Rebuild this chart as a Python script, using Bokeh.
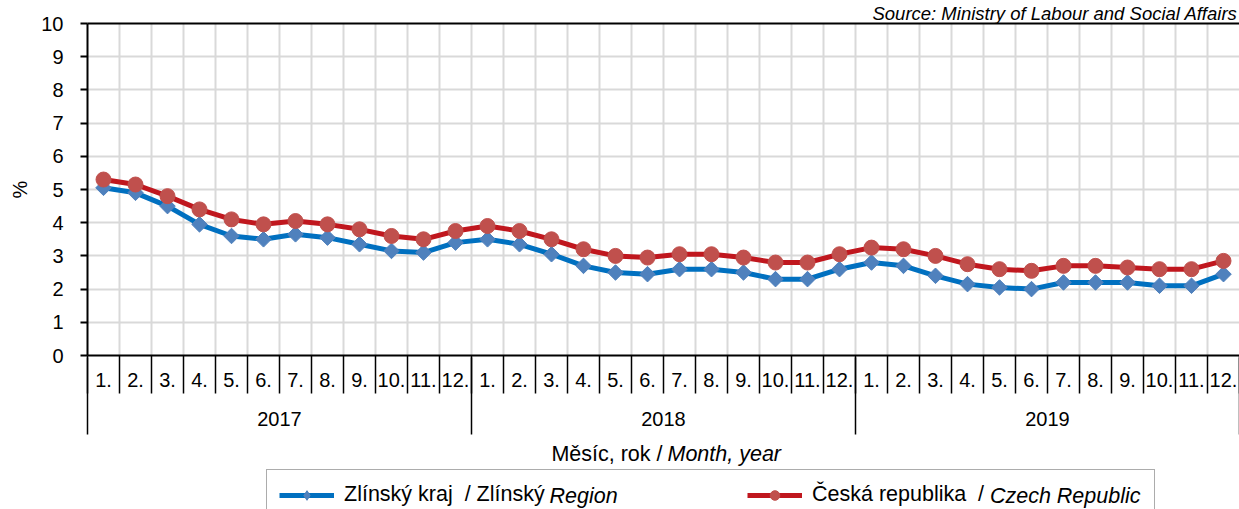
import numpy as np
from bokeh.plotting import figure
from bokeh.layouts import column
from bokeh.models import (Range1d, LinearAxis, FixedTicker, Grid, Legend,
                          LegendItem, Label)
from bokeh.embed import file_html
from bokeh.resources import INLINE

# ---------------- data ----------------
years = ["2017", "2018", "2019"]
months = ["1.", "2.", "3.", "4.", "5.", "6.", "7.", "8.", "9.", "10.", "11.", "12."]

zlin = [5.05, 4.9, 4.5, 3.95, 3.6, 3.5, 3.65, 3.55, 3.35, 3.15, 3.1, 3.4,
        3.5, 3.35, 3.05, 2.7, 2.5, 2.45, 2.6, 2.6, 2.5, 2.3, 2.3, 2.6,
        2.8, 2.7, 2.4, 2.15, 2.05, 2.0, 2.2, 2.2, 2.2, 2.1, 2.1, 2.45]
cz = [5.3, 5.15, 4.8, 4.4, 4.1, 3.95, 4.05, 3.95, 3.8, 3.6, 3.5, 3.75,
      3.9, 3.75, 3.5, 3.2, 3.0, 2.95, 3.05, 3.05, 2.95, 2.8, 2.8, 3.05,
      3.25, 3.2, 3.0, 2.75, 2.6, 2.55, 2.7, 2.7, 2.65, 2.6, 2.6, 2.85]

y_ticks = list(range(0, 11))
name_zlin = ("Zlínský kraj\u00a0 / Zlínský", "Region")
name_cz = ("Česká republika\u00a0 /", "Czech Republic")
axis_title = ("Měsíc, rok /", "Month, year")
source_text = "Source: Ministry of Labour and Social Affairs"

FONT = "Liberation Sans"
FS = "20px"
FS_BIG = "21.5px"
W = 1239
H_MAIN = 440
H_BOT = 69

BLUE_LINE, BLUE_MARK = "#0070C0", "#4F81BD"
RED_LINE, RED_MARK = "#C0171E", "#C0504D"

n = len(years) * len(months)
xc = [i + 0.5 for i in range(n)]

# ---------------- main chart ----------------
p = figure(width=W, height=H_MAIN, x_range=Range1d(0, n), y_range=Range1d(0, 10),
           output_backend="svg", toolbar_location=None, x_axis_type=None,
           min_border_left=87, min_border_right=0, min_border_top=23,
           min_border_bottom=H_MAIN - 355)
p.outline_line_color = None
p.background_fill_color = "white"
p.border_fill_color = "white"

p.title.text = source_text
p.title.align = "right"
p.title.text_font = FONT
p.title.text_font_style = "italic"
p.title.text_font_size = "18.5px"
p.title.text_color = "black"
p.title.standoff = 0
p.title.offset = 2

yax = p.yaxis[0]
yax.ticker = FixedTicker(ticks=y_ticks)
yax.major_tick_out = 7
yax.major_tick_in = 0
yax.minor_tick_out = 0
yax.minor_tick_in = 0
yax.axis_line_color = "black"
yax.axis_line_width = 2
yax.major_tick_line_color = "black"
yax.major_tick_line_width = 2
yax.major_label_text_font = FONT
yax.major_label_text_font_size = FS
yax.major_label_text_color = "black"
yax.major_label_standoff = 17
yax.axis_label = "%"
yax.axis_label_text_font = FONT
yax.axis_label_text_font_style = "normal"
yax.axis_label_text_font_size = FS
yax.axis_label_text_color = "black"
yax.axis_label_standoff = 7

# plain black line along the top edge of the plot area
top_axis = LinearAxis(ticker=FixedTicker(ticks=[]), major_tick_out=0, major_tick_in=0,
                      minor_tick_out=0, minor_tick_in=0, axis_line_color="black",
                      axis_line_width=2, major_label_standoff=0,
                      major_label_text_font_size="0px")
p.add_layout(top_axis, "above")

p.ygrid.grid_line_color = "#D9D9D9"
p.ygrid.grid_line_width = 2
p.add_layout(Grid(dimension=0, ticker=FixedTicker(ticks=list(range(n + 1))),
                  grid_line_color="#D9D9D9", grid_line_width=2))

# month axis (labels at centres, separators as minor ticks)
month_axis = LinearAxis(
    ticker=FixedTicker(ticks=xc, minor_ticks=list(range(n + 1))),
    major_label_overrides={xc[i]: months[i % 12] for i in range(n)},
    major_tick_out=0, major_tick_in=0, minor_tick_out=38, minor_tick_in=0,
    minor_tick_line_color="black", minor_tick_line_width=1.5,
    axis_line_color="black", axis_line_width=2,
    major_label_text_font=FONT, major_label_text_font_size=FS,
    major_label_text_color="black", major_label_standoff=-21)
p.add_layout(month_axis, "below")

# year axis
ymid = [12 * k + 6 for k in range(len(years))]
year_axis = LinearAxis(
    ticker=FixedTicker(ticks=ymid, minor_ticks=[12 * k for k in range(len(years) + 1)]),
    major_label_overrides={ymid[k]: years[k] for k in range(len(years))},
    major_tick_out=0, major_tick_in=0, minor_tick_out=45, minor_tick_in=32,
    minor_tick_line_color="black", minor_tick_line_width=1.5,
    axis_line_color=None,
    major_label_text_font=FONT, major_label_text_font_size=FS,
    major_label_text_color="black", major_label_standoff=-23)
p.add_layout(year_axis, "below")

p.line(xc, zlin, line_color=BLUE_LINE, line_width=5)
p.scatter(xc, zlin, marker="square", angle=np.pi / 4, size=11,
          fill_color=BLUE_MARK, line_color=BLUE_MARK)
p.line(xc, cz, line_color=RED_LINE, line_width=5)
p.scatter(xc, cz, marker="circle", size=15,
          fill_color=RED_MARK, line_color=RED_MARK)

# ---------------- bottom strip: axis title + legend ----------------
# (its frame is aligned with the main frame: x here is measured from x = 87 px)
p2 = figure(width=W, height=H_BOT, x_range=Range1d(0, W), y_range=Range1d(0, H_BOT),
            output_backend="svg", toolbar_location=None, x_axis_type=None,
            y_axis_type=None, min_border=0)
p2.outline_line_color = None
p2.grid.visible = False
p2.background_fill_color = "white"
p2.border_fill_color = "white"

# legend swatches: one missing (NaN) point each, only their styles are shown
bl = p2.line([np.nan], [np.nan], line_color=BLUE_LINE, line_width=5)
bs = p2.scatter([np.nan], [np.nan], marker="diamond", size=11,
                fill_color=BLUE_MARK, line_color=BLUE_MARK)
rl = p2.line([np.nan], [np.nan], line_color=RED_LINE, line_width=5)
rs = p2.scatter([np.nan], [np.nan], marker="circle", size=15,
                fill_color=RED_MARK, line_color=RED_MARK)

legend = Legend(items=[LegendItem(label=name_zlin[0], renderers=[bl, bs]),
                       LegendItem(label=name_cz[0], renderers=[rl, rs])],
                orientation="horizontal", location=(179, -11), padding=12,
                spacing=73, glyph_width=55, glyph_height=24, label_standoff=10,
                label_width=330, label_text_font=FONT, label_text_font_size=FS_BIG,
                label_text_color="black", border_line_color="#595959",
                border_line_width=1.5, background_fill_alpha=0)
p2.add_layout(legend)

def lab(text, x, y, align="left", style="normal", size=FS_BIG):
    p2.add_layout(Label(text=text, x=x, y=y, x_units="screen", y_units="screen",
                        text_align=align, text_baseline="middle",
                        text_font=FONT, text_font_size=size,
                        text_font_style=style, text_color="black"))

lab(axis_title[0], 575, 56, align="right")
lab(axis_title[1], 580, 56, style="italic")
lab(name_zlin[1], 462, 14, style="italic")
lab(name_cz[1], 1053, 14, align="right", style="italic")

layout = column(p, p2)
open("out.html", "w").write(file_html(layout, INLINE))
